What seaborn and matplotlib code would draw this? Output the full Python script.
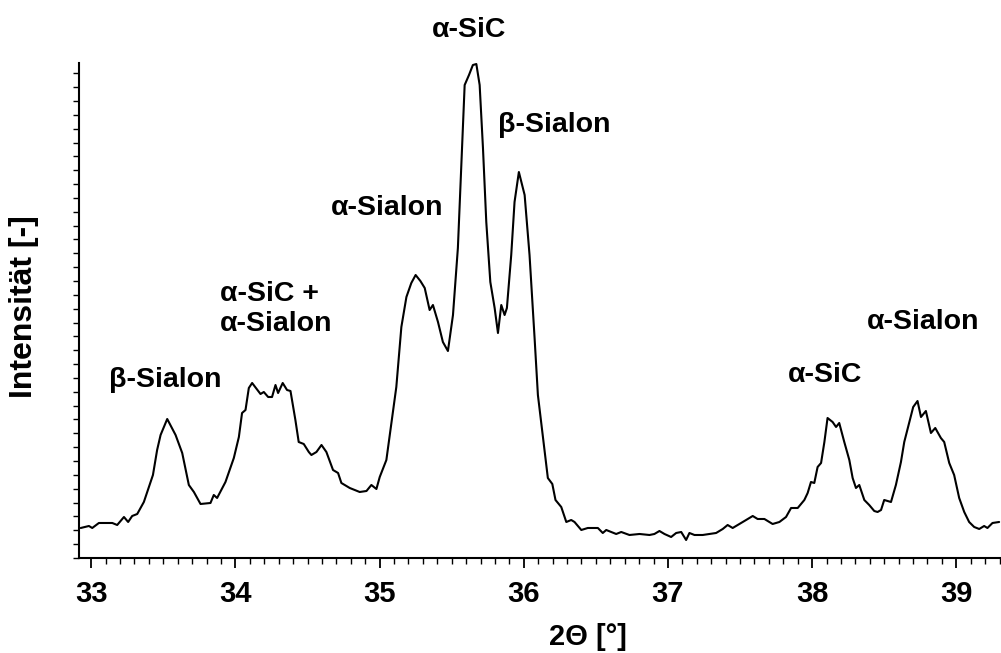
import numpy as np
import pandas as pd
import matplotlib
matplotlib.use("Agg")
import matplotlib.pyplot as plt
from matplotlib.ticker import MultipleLocator, FixedLocator
import seaborn as sns

# ---- data (2-theta in degrees, intensity in a.u.) ----
two_theta = [
    32.927, 32.984, 33.007, 33.053, 33.146, 33.180, 33.227, 33.256, 33.284, 33.319,
    33.365, 33.400, 33.428, 33.457, 33.481, 33.527, 33.585, 33.631, 33.677, 33.712,
    33.758, 33.827, 33.850, 33.873, 33.931, 33.989, 34.024, 34.046, 34.070, 34.093,
    34.116, 34.174, 34.197, 34.227, 34.254, 34.278, 34.296, 34.328, 34.358, 34.382,
    34.416, 34.439, 34.474, 34.509, 34.527, 34.562, 34.597, 34.631, 34.677, 34.712,
    34.735, 34.793, 34.827, 34.862, 34.909, 34.943, 34.978, 35.001, 35.047, 35.082,
    35.116, 35.151, 35.186, 35.220, 35.250, 35.283, 35.313, 35.347, 35.370, 35.405,
    35.439, 35.474, 35.509, 35.543, 35.567, 35.590, 35.620, 35.647, 35.671, 35.694,
    35.717, 35.740, 35.768, 35.798, 35.821, 35.844, 35.867, 35.883, 35.913, 35.936,
    35.966, 36.006, 36.040, 36.075, 36.098, 36.132, 36.167, 36.198, 36.220, 36.260,
    36.295, 36.329, 36.352, 36.399, 36.444, 36.514, 36.548, 36.572, 36.606, 36.641,
    36.676, 36.733, 36.803, 36.872, 36.906, 36.941, 36.976, 37.022, 37.057, 37.092,
    37.126, 37.149, 37.184, 37.241, 37.288, 37.334, 37.380, 37.414, 37.449, 37.496,
    37.542, 37.588, 37.622, 37.669, 37.726, 37.773, 37.819, 37.854, 37.900, 37.946,
    37.969, 37.992, 38.015, 38.038, 38.062, 38.085, 38.107, 38.142, 38.166, 38.188,
    38.223, 38.258, 38.281, 38.304, 38.327, 38.362, 38.396, 38.431, 38.454, 38.478,
    38.500, 38.547, 38.581, 38.616, 38.639, 38.674, 38.701, 38.731, 38.755, 38.789,
    38.824, 38.854, 38.893, 38.916, 38.951, 38.985, 39.020, 39.055, 39.089, 39.124,
    39.159, 39.193, 39.216, 39.251, 39.297,
]
intensity = [
    30, 32, 30, 35, 35, 33, 41, 36, 42, 44,
    56, 71, 83, 108, 123, 139, 123, 105, 73, 66,
    54, 55, 63, 60, 76, 100, 121, 145, 148, 170,
    175, 164, 166, 161, 161, 173, 165, 175, 168, 167,
    138, 116, 114, 106, 103, 106, 113, 106, 88, 85,
    75, 70, 68, 66, 67, 73, 69, 81, 98, 135,
    171, 231, 261, 275, 283, 277, 270, 248, 253, 236,
    216, 207, 243, 310, 393, 473, 483, 493, 494, 473,
    410, 336, 276, 250, 225, 253, 243, 250, 303, 356,
    386, 363, 303, 220, 163, 122, 80, 74, 58, 51,
    36, 38, 36, 28, 30, 30, 25, 28, 26, 24,
    26, 23, 24, 23, 24, 27, 24, 21, 25, 26,
    18, 25, 23, 23, 24, 25, 29, 33, 30, 34,
    38, 42, 39, 39, 34, 36, 41, 50, 50, 58,
    65, 76, 75, 91, 95, 116, 140, 136, 131, 135,
    116, 98, 80, 70, 73, 58, 53, 47, 46, 48,
    58, 56, 73, 96, 116, 136, 151, 157, 141, 147,
    125, 130, 120, 116, 95, 83, 60, 46, 36, 31,
    29, 32, 30, 35, 36,
]

# phase labels: text, 2-theta position, intensity position, horizontal alignment
label_texts = ["α-SiC", "β-Sialon", "α-Sialon", "α-SiC +\nα-Sialon", "β-Sialon", "α-SiC", "α-Sialon"]
label_x = [35.624, 36.213, 35.049, 33.892, 33.511, 38.091, 38.771]
label_y = [528, 433, 350, 249, 178, 183, 236]
label_ha = ["center", "center", "center", "left", "center", "center", "center"]

x_ticks = [33, 34, 35, 36, 37, 38, 39]
x_label = "2Θ [°]"
y_label = "Intensität [-]"

# ---- styling ----
sns.set_theme(style="ticks")
plt.rcParams["font.family"] = ["Liberation Sans", "DejaVu Sans"]
plt.rcParams["font.weight"] = "bold"

fig = plt.figure(figsize=(10.01, 6.53), dpi=100)
ax = fig.add_axes([0.0789, 0.1455, 0.9211, 0.758])

df = pd.DataFrame({"two_theta": two_theta, "intensity": intensity})
sns.lineplot(data=df, x="two_theta", y="intensity", color="black", linewidth=1.5,
             ax=ax, sort=False, estimator=None)

ax.set_xlim(32.915, 39.31)
ax.set_ylim(0, 495)

for s in ["top", "right"]:
    ax.spines[s].set_visible(False)
for s in ["left", "bottom"]:
    ax.spines[s].set_linewidth(1.5)
    ax.spines[s].set_color("black")

ax.xaxis.set_major_locator(FixedLocator(x_ticks))
ax.xaxis.set_minor_locator(MultipleLocator(0.1))
ax.tick_params(axis="x", which="major", direction="out", length=7, width=1.3,
               labelsize=21, pad=9, colors="black")
ax.tick_params(axis="x", which="minor", direction="out", length=4, width=1.0, colors="black")
for lab in ax.get_xticklabels():
    lab.set_fontweight("bold")

ax.yaxis.set_major_locator(MultipleLocator(13.85))
ax.tick_params(axis="y", which="major", direction="out", length=4.5, width=1.0,
               labelleft=False, colors="black")
ax.tick_params(axis="y", which="minor", left=False)

ax.set_xlabel(x_label, fontsize=21, fontweight="bold", color="black")
ax.xaxis.label.set_va("center")
ax.xaxis.set_label_coords(0.552, -0.1596)
ax.set_ylabel(y_label, fontsize=23, fontweight="bold", color="black")
ax.yaxis.label.set_va("center")
ax.yaxis.label.set_rotation_mode("default")
ax.yaxis.set_label_coords(-0.0597, 0.507)

for t, xx, yy, ha in zip(label_texts, label_x, label_y, label_ha):
    ax.text(xx, yy, t, ha=ha, va="center", fontsize=20.5, fontweight="bold",
            color="black", clip_on=False, linespacing=1.2)

ax.grid(False)
fig.savefig("out.png", dpi=100, facecolor="white")
